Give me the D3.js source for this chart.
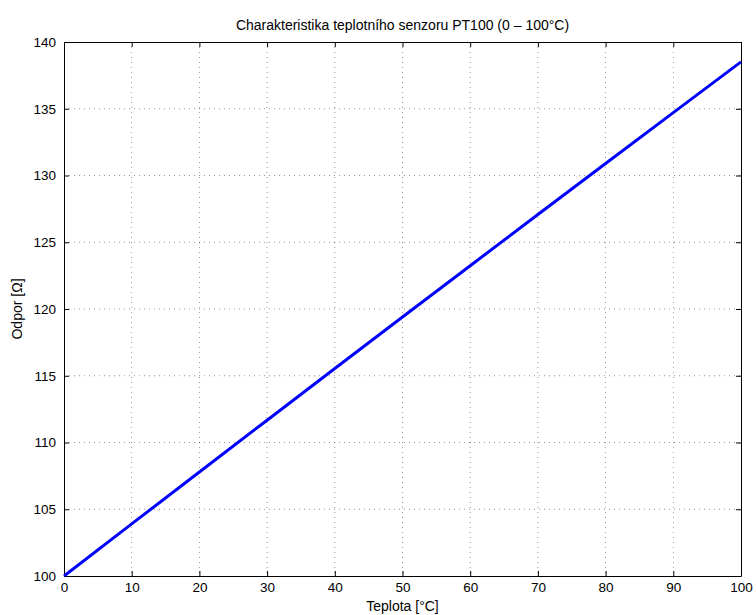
<!DOCTYPE html>
<html>
<head>
<meta charset="utf-8">
<script src="https://cdnjs.cloudflare.com/ajax/libs/d3/7.8.5/d3.min.js"></script>
<style>
  body { margin: 0; background: #fff; }
  svg { display: block; font-family: "Liberation Sans", Arial, sans-serif; }
  .grid line { stroke: #000; stroke-width: 0.6; stroke-dasharray: 1 4; opacity: 0.7; }
</style>
</head>
<body>
<svg id="chart" width="756" height="615"></svg>
<script>
// Data (PT100 characteristic)
const temps = [0, 10, 20, 30, 40, 50, 60, 70, 80, 90, 100];
const resist = [100, 103.90, 107.79, 111.67, 115.54, 119.40, 123.24, 127.08, 130.90, 134.71, 138.51];
const xTicks = [0, 10, 20, 30, 40, 50, 60, 70, 80, 90, 100];
const yTicks = [100, 105, 110, 115, 120, 125, 130, 135, 140];

const svg = d3.select('#chart');
const m = { left: 64, right: 741, top: 42, bottom: 576 };

const x = d3.scaleLinear().domain([0, 100]).range([m.left, m.right]);
const y = d3.scaleLinear().domain([100, 140]).range([m.bottom, m.top]);

// mřížka
const grid = svg.append('g').attr('class', 'grid');
grid.selectAll('line.vx').data(xTicks.slice(1, -1)).enter().append('line')
  .attr('x1', d => x(d)).attr('x2', d => x(d)).attr('y1', m.top).attr('y2', m.bottom);
grid.selectAll('line.hy').data(yTicks.slice(1, -1)).enter().append('line')
  .attr('y1', d => y(d)).attr('y2', d => y(d)).attr('x1', m.left).attr('x2', m.right);

// osy - tick dovnitř (MATLAB styl)
const fmt = d3.format('d');
const axB = svg.append('g').attr('transform', `translate(0,${m.bottom})`)
  .call(d3.axisBottom(x).tickValues(xTicks).tickFormat(fmt).tickSizeInner(-5).tickSizeOuter(0).tickPadding(6));
const axT = svg.append('g').attr('transform', `translate(0,${m.top})`)
  .call(d3.axisTop(x).tickValues(xTicks).tickFormat('').tickSizeInner(-5).tickSizeOuter(0));
const axL = svg.append('g').attr('transform', `translate(${m.left},0)`)
  .call(d3.axisLeft(y).tickValues(yTicks).tickFormat(fmt).tickSizeInner(-5).tickSizeOuter(0).tickPadding(8));
const axR = svg.append('g').attr('transform', `translate(${m.right},0)`)
  .call(d3.axisRight(y).tickValues(yTicks).tickFormat('').tickSizeInner(-5).tickSizeOuter(0));

[axB, axT, axL, axR].forEach(a => {
  a.select('.domain').attr('stroke', '#000').attr('stroke-width', 1);
  a.selectAll('.tick line').attr('stroke', '#000');
  a.selectAll('text').attr('font-size', 13.5).attr('fill', '#000')
    .attr('font-family', '"Liberation Sans", Arial, sans-serif');
});

// čára
const line = d3.line().x((d, i) => x(temps[i])).y(d => y(d));
svg.append('path').datum(resist)
  .attr('d', line).attr('fill', 'none').attr('stroke', '#0000ff').attr('stroke-width', 3);

// popisky
svg.append('text').attr('x', (m.left + m.right) / 2).attr('y', 30)
  .attr('text-anchor', 'middle').attr('font-size', 14)
  .text('Charakteristika teplotního senzoru PT100 (0 – 100°C)');
svg.append('text').attr('x', (m.left + m.right) / 2).attr('y', 611)
  .attr('text-anchor', 'middle').attr('font-size', 14)
  .text('Teplota [°C]');
svg.append('text').attr('transform', `translate(22,${(m.top + m.bottom) / 2}) rotate(-90)`)
  .attr('text-anchor', 'middle').attr('font-size', 14)
  .text('Odpor [Ω]');
</script>
</body>
</html>
